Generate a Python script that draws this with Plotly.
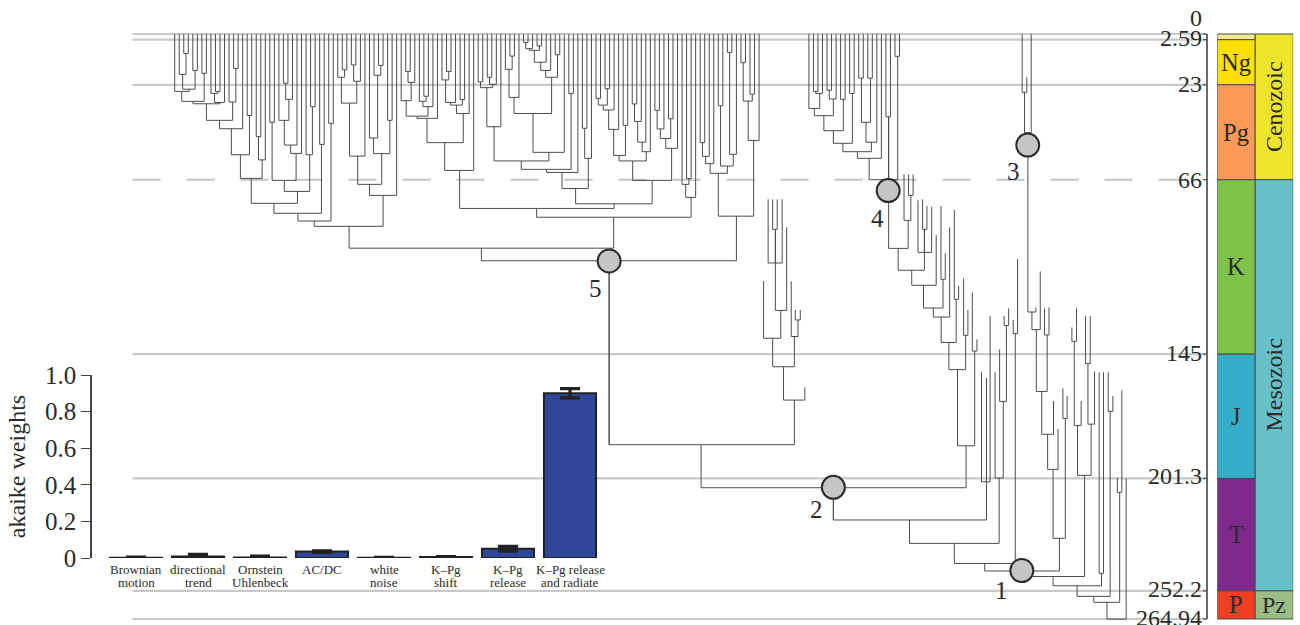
import plotly.graph_objects as go

# Tree rows: (left_x, left_top_age, right_x, right_top_age, node_age). x is in tip-order units, ages in Ma.
clade_a = [
(2,0,3,0,8.8),(1,0,2.5,8.8,18.3),(4,0,5,0,16.5),(1.75,18.3,4.5,16.5,25),(0,0,3.2,25,26),(6,0,7,0,17.8),
(1.55,26,6.5,17.8,30.5),(9,0,10,0,26.1),(8,0,9.5,26.1,26.9),(8.8,26.9,11,0,31),(4.05,30.5,10,31,31.6),
(13,0,14,0,15.6),(12,0,13.5,15.6,30.8),(7,31.6,12.8,30.8,39.1),(9.9,39.1,15,0,42.9),(16,0,17,0,36.9),
(12.5,42.9,16.5,36.9,54.7),(18,0,19,0,46.5),(18.5,46.5,20,0,57),(14.5,54.7,19.3,57,65.4),(21,0,22,0,40),
(24,0,25,0,22.3),(24.5,22.3,26,0,29.6),(23,0,25.2,29.6,39.1),(24.2,39.1,27,0,50.3),(25.6,50.3,28,0,54.1),
(30,0,31,0,32.9),(29,0,30.4,32.9,54.7),(21.5,40,26.8,54.1,66.3),(24.2,66.3,29.8,54.7,71.3),
(16.9,65.4,27.1,71.3,76.7),(32,0,33,0,50),(21.9,76.7,32.4,50,81.2),(34,0,35,0,40.5),(27.2,81.2,34.5,40.5,84.7),
]
clade_b = [
(37,0,38,0,16.2),(36,0,37.5,16.2,19.6),(39,0,40,0,14),(39.5,14,41,0,21.4),(36.8,19.6,40.2,21.4,31.3),
(38.6,31.3,42,0,55.3),(45,0,46,0,14.2),(44,0,45.5,14.2,18.7),(43,0,44.8,18.7,47.1),(47,0,48,0,39.1),
(43.9,47.1,47.5,39.1,54.2),(40.4,55.3,45.7,54.2,68.1),(43,68.1,49,0,73.1),(30.8,84.7,46,73.1,87.1),
]
clade_c = [
(51,0,52,0,17),(51.5,17,53,0,21.9),(50,0,52.2,21.9,30.2),(55,0,56,0,28.2),(54,0,55.5,28.2,30.5),
(54.8,30.5,57,0,32.9),(51.1,30.2,55.9,32.9,37.2),(53.5,37.2,58,0,38.2),(60,0,61,0,17),(59,0,60.5,17,20.8),
(59.8,20.8,62,0,31),(63,0,64,0,29.7),(60.9,31,63.5,29.7,32.2),(62.2,32.2,65,0,36),(55.7,38.2,63.7,36,49.2),
(59.6,49.2,66,0,61.8),
]
clade_d = [
(67,0,68,0,21.7),(69,0,70,0,19.6),(69.5,19.6,71,0,22.8),(67.5,21.7,70.2,22.8,24.3),(68.9,24.3,72,0,42),
(74,0,75,0,10),(73,0,74.5,10,16),(73.8,16,76,0,28.7),(77,0,78,0,3.8),(77.5,3.8,79,0,6.65),(80,0,81,0,5.4),
(78.3,6.65,80.5,5.4,7.4),(79.4,7.4,82,0,12.8),(80.8,12.8,83,0,16.5),(84,0,85,0,9.4),(81.9,16.5,84.5,9.4,19.6),
(74.9,28.7,83.2,19.6,36),(79.1,36,86,0,53.6),(87,0,88,0,27),(70.5,42,82.6,53.6,57.5),(76.5,57.5,87.5,27,61.3),
(82.1,61.3,89,0,62.7),(90,0,91,0,42.7),(90.5,42.7,92,0,56.3),(85.5,62.7,91.3,56.3,70),(93,0,94,0,29.1),
(95,0,96,0,24.8),(93.5,29.1,95.5,24.8,32.2),(94.6,32.2,97,0,34.4),(95.8,34.4,98,0,43.2),(99,0,100,0,41.4),
(96.9,43.2,99.5,41.4,55),(101,0,102,0,31.7),(101.5,31.7,103,0,39.6),(102.2,39.6,104,0,49),(103.2,49,105,0,53.3),
(98.1,55,104.1,53.3,57.5),(106,0,107,0,34.6),(106.5,34.6,108,0,43),(109,0,110,0,38.4),(107.2,43,109.5,38.4,47.3),
(108.4,47.3,111,0,51.8),(101.1,57.5,109.7,51.8,66.3),(88.5,70,105.4,66.3,76.9),(62.9,61.8,97,76.9,79),
(113,0,114,0,65.5),(112,0,113.5,65.5,68.1),(112.8,68.1,115,0,74),(79.9,79,114,74,83),(38.5,87.1,96.9,83,97),
]
clade_e = [
(116,0,117,0,49.2),(116.5,49.2,118,0,55.4),(117.2,55.4,119,0,58.7),(122,0,123,0,8.3),(120,0,121,0,32.5),
(122.5,8.3,124,0,54.5),(120.5,32.5,123.3,54.5,59.8),(118.2,58.7,122,59.8,63.1),(125,0,126,0,13),(127,0,128,0,27.3),
(125.5,13,127.5,27.3,30.4),(126.6,30.4,129,0,48.2),(120,63.1,127.8,48.2,82.5),(67.7,97,124,82.5,102.7),
]
clade_f = [
(132,74.9,133,74.9,88.5),(131,74.9,132.6,88.5,103.7),(132.6,88.5,134.1,74.9,103.7),(132.6,103.7,135.1,87.6,125.2),
(130,111.9,133.8,125.2,137.8),(137,125,138.1,125,129.5),(136.1,112,137.6,129.5,137),(132,137.8,136.8,137,150.7),
(134.4,150.7,139.1,160,165.8),(95.9,102.7,136.8,165.8,186),(116.2,186,174.7,186.5,205.5),
]
clade_g = [
(141,0,142,0,26),(141.5,26,143,0,26.9),(140,0,142.4,26.9,33.7),(144,0,145,0,25.5),(144.5,25.5,146,0,29.4),
(141.2,33.7,145.4,29.4,37),(147,0,148,0,29.6),(143.3,37,147.6,29.6,43.8),(149,0,150,0,26.9),(145.4,43.8,149.6,26.9,49.5),
(151,0,152,0,20),(153,0,154,0,20),(151.6,20,153.6,20,40),(152.6,40,155,0,49),(147.5,49.5,153.8,49,53.3),
(150.7,53.3,156,0,56.3),(157,0,158,0,37.5),(159,0,160,0,10.1),(153.3,56.3,157.6,37.5,66),(157.6,37.5,159.6,10.1,66),
(157.6,66,161.9,84.4,97.1),(162,63.6,163,63.6,73.1),(161,63.6,162.5,73.1,84.4),(165.1,74.9,166.05,77.9,88.5),
(164.07,75.3,165.5,88.5,98.9),(165.5,88.5,167.1,78.2,98.9),(159.7,97.1,165.5,98.9,107),(162.7,107,168.1,91,113.8),
(169.16,77.9,170.1,99.3,111.1),(165.3,113.8,169.6,111.1,124.1),(167.46,124.1,171.07,87.6,128.2),
(172.1,79.7,173.05,114.1,120.2),(169.2,128.2,172.5,120.2,139.7),(174.16,110.7,175.1,125,136.5),
(170.9,139.7,174.6,136.5,152),(176.07,117,177.1,138.3,143.6),(172.8,152,176.6,143.6,186.5),
]
clade_h = [
(178.1,153.2,179.2,155.8,202.8),(179.2,155.8,180,127.7,202.8),(145.4,205.5,179.2,202.8,220.1),
(183.1,127.7,184.1,124.3,132),(182.1,142.8,183.6,132,166.4),(181.1,153.2,182.9,166.4,201.1),
(162.2,220.1,182,201.1,230.7),(185.1,129.5,186.07,101.9,135.7),(172.1,230.7,185.55,135.7,239.8),
(178.8,239.8,187,243.2,243.2),
]
clade_i = [
(187.08,0,188.1,19.6,26.4),(187.6,26.4,189.07,0,44.7),(188.35,44.7,190.1,123.8,125.9),(189.23,125.9,191.07,107.5,133.9),
(192,124.3,193,123.8,136.3),(190.2,133.9,192.6,136.3,161.9),(191.4,161.9,194,166.2,181.3),(192.7,181.3,195,178.9,197.2),
(196.07,160.5,197,164,174.1),(193.9,197.2,196.6,174.1,228.4),(187,243.2,195.3,228.4,243.2),
(198.05,132.9,199.08,124.3,139.2),(198.57,139.2,200.1,166.2,177.3),(201.07,127.7,202.1,127.7,149.2),
(201.6,149.2,203.05,152.8,176.7),(199.3,177.3,202.3,176.7,199.9),(187,245.7,200.85,199.9,245.7),
(204.08,153.2,205.04,153.2,244.3),(193.9,245.7,204.6,244.3,249.9),(206.07,153.2,207.1,164,170.9),
(199.2,249.9,206.5,170.9,254.7),(208.1,201,209.08,161.4,207.6),(202.9,254.7,208.6,207.6,257.4),
(205.8,257.4,210.04,201.3,265),
]
stems = [(95.9,102.7,186),(145.4,205.5,220.1)]

node_x = [187, 145.4, 188.3, 157.5, 95.9]
node_age = [243, 205.3, 50.3, 70.9, 102.8]
node_labels = ["1", "2", "3", "4", "5"]

age_ticks = [0, 2.59, 23, 66, 145, 201.3, 252.2, 264.94]
age_labels = ["0", "2.59", "23", "66", "145", "201.3", "252.2", "264.94"]
solid_lines = [0, 2.59, 23, 145, 201.3, 252.2, 264.94]
dashed_lines = [66]

period_names = ["", "Ng", "Pg", "K", "J", "T", "P"]
period_start = [0, 2.59, 23, 66, 145, 201.3, 252.2]
period_end = [2.59, 23, 66, 145, 201.3, 252.2, 264.94]
period_colors = ["#f2ea93", "#ffe000", "#fa9a56", "#7fc24a", "#33adc8", "#7d2a8c", "#ef3e23"]
era_names = ["Cenozoic", "Mesozoic", "Pz"]
era_start = [0, 66, 252.2]
era_end = [66, 252.2, 264.94]
era_colors = ["#ede52c", "#66c1c9", "#9bbd86"]

model_line1 = ["Brownian", "directional", "Ornstein", "AC/DC", "white", "K–Pg", "K–Pg", "K–Pg release"]
model_line2 = ["motion", "trend", "Uhlenbeck", "", "noise", "shift", "release", "and radiate"]
model_weights = [0.002, 0.008, 0.003, 0.035, 0.002, 0.005, 0.05, 0.90]
model_errors = [0.003, 0.012, 0.008, 0.004, 0.002, 0.003, 0.013, 0.025]

INK = "#2b2b2b"
SERIF = "Liberation Serif"
W, H = 1300, 625
PX0, PXU = 174.7, 4.53       # tip-order units to page width
PY0, PYU = 34.0, 2.208       # Ma to page height
x_range = [(0 - PX0) / PXU, (W - PX0) / PXU]
y_range = [(H - PY0) / PYU, (0 - PY0) / PYU]

tx, ty = [], []
for rows in (clade_a, clade_b, clade_c, clade_d, clade_e, clade_f, clade_g, clade_h, clade_i):
    for lx, lt, rx, rt, a in rows:
        tx += [lx, lx, rx, rx, None]
        ty += [lt, a, a, rt, None]
for x, a0, a1 in stems:
    tx += [x, x, None]
    ty += [a0, a1, None]

grid_x = [(132.5 - PX0) / PXU, (1205 - PX0) / PXU]
axis_x = (1207 - PX0) / PXU
stub_x = (1203 - PX0) / PXU
label_x = (1203.5 - PX0) / PXU

fig = go.Figure()
for a in solid_lines:
    fig.add_trace(go.Scatter(x=grid_x, y=[a, a], mode="lines", line=dict(color="#c9c9c9", width=2.2), hoverinfo="skip"))
for a in dashed_lines:
    fig.add_trace(go.Scatter(x=grid_x, y=[a, a], mode="lines", line=dict(color="#c4c4c4", width=2, dash="28px,26px"), hoverinfo="skip"))
fig.add_trace(go.Scatter(x=tx, y=ty, mode="lines", line=dict(color="#4d4d4d", width=1), hoverinfo="skip"))
fig.add_trace(go.Scatter(x=node_x, y=node_age, mode="markers",
                         marker=dict(size=23, color="#c4c5c6", line=dict(color="#2a2a2a", width=2)), hoverinfo="skip"))
fig.add_trace(go.Scatter(x=[axis_x, axis_x], y=[age_ticks[0], age_ticks[-1]], mode="lines",
                         line=dict(color="#444", width=1.6), hoverinfo="skip"))
for a in age_ticks:
    fig.add_trace(go.Scatter(x=[stub_x, axis_x], y=[a, a], mode="lines", line=dict(color="#444", width=1.2), hoverinfo="skip"))

for i in range(len(period_names)):
    fig.add_trace(go.Bar(x=["period"], y=[period_end[i] - period_start[i]], base=[period_start[i]], width=1,
                         marker=dict(color=period_colors[i], line=dict(color="#4a4a4a", width=1)),
                         xaxis="x2", yaxis="y", hoverinfo="skip"))
for i in range(len(era_names)):
    fig.add_trace(go.Bar(x=["era"], y=[era_end[i] - era_start[i]], base=[era_start[i]], width=1,
                         marker=dict(color=era_colors[i], line=dict(color="#4a4a4a", width=1)),
                         xaxis="x2", yaxis="y", hoverinfo="skip"))

model_ids = list(range(len(model_weights)))
fig.add_trace(go.Bar(x=model_ids, y=model_weights, width=0.84,
                     marker=dict(color="#2f4699", line=dict(color="#222", width=2)),
                     error_y=dict(type="data", array=model_errors, color="#222", thickness=3.2, width=10),
                     xaxis="x3", yaxis="y3", hoverinfo="skip"))

notes = []
node_shift_x = [-20, -17, -14, -11, -14]
node_shift_y = [-20, -22, -26, -28, -28]
for x, a, s, dx, dy in zip(node_x, node_age, node_labels, node_shift_x, node_shift_y):
    notes.append(dict(x=x, y=a, text=s, xshift=dx, yshift=dy, showarrow=False, font=dict(size=25, family=SERIF, color=INK)))
age_label_shift = [16, 2, 1, 0, 1, 2, 2, 1]
for a, s, dy in zip(age_ticks, age_labels, age_label_shift):
    notes.append(dict(x=label_x, y=a, text=s, xanchor="right", yanchor="middle", yshift=dy, showarrow=False,
                      font=dict(size=24, family=SERIF, color=INK)))
for s, a0, a1 in zip(period_names, period_start, period_end):
    if s:
        notes.append(dict(x="period", y=(a0 + a1) / 2, xref="x2", yref="y", text=s, showarrow=False,
                          font=dict(size=24.5, family=SERIF, color=INK)))
for s, a0, a1 in zip(era_names, era_start, era_end):
    notes.append(dict(x="era", y=(a0 + a1) / 2, xref="x2", yref="y", text=s, showarrow=False,
                      textangle=0 if s == "Pz" else -90, font=dict(size=24, family=SERIF, color=INK)))
for i, (a, b) in enumerate(zip(model_line1, model_line2)):
    notes.append(dict(x=i, y=0, xref="x3", yref="y3", text=a, yshift=-11, showarrow=False,
                      font=dict(size=13, family=SERIF, color=INK)))
    if b:
        notes.append(dict(x=i, y=0, xref="x3", yref="y3", text=b, yshift=-24, showarrow=False,
                          font=dict(size=13, family=SERIF, color=INK)))

fig.update_layout(
    width=W, height=H, margin=dict(l=0, r=0, t=0, b=0, autoexpand=False), paper_bgcolor="white", plot_bgcolor="rgba(0,0,0,0)",
    showlegend=False, barmode="overlay", annotations=notes,
    xaxis=dict(domain=[0, 1], range=x_range, visible=False, fixedrange=True),
    yaxis=dict(domain=[0, 1], range=y_range, visible=False, fixedrange=True),
    xaxis2=dict(domain=[1217.2 / W, 1293.2 / W], anchor="y", type="category", range=[-0.5, 1.5], visible=False,
                categoryorder="array", categoryarray=["period", "era"]),
    xaxis3=dict(domain=[105 / W, 601 / W], anchor="y3", range=[-0.5, 7.5], visible=False),
    yaxis3=dict(domain=[(H - 558) / H, (H - 375) / H], anchor="free", position=91 / W, range=[0, 1],
                tickvals=[0, 0.2, 0.4, 0.6, 0.8, 1.0], ticktext=["0", "0.2", "0.4", "0.6", "0.8", "1.0"],
                ticks="outside", ticklen=9, tickwidth=1.4, tickcolor="#444", showline=True, linecolor="#444", linewidth=1.6,
                showgrid=False, zeroline=False, tickfont=dict(size=25, family=SERIF, color=INK),
                title=dict(text="akaike weights", font=dict(size=24, family=SERIF, color=INK), standoff=12)),
)
fig.write_html("out.html", post_script="document.body.style.margin='0';", config={"displayModeBar": False})
